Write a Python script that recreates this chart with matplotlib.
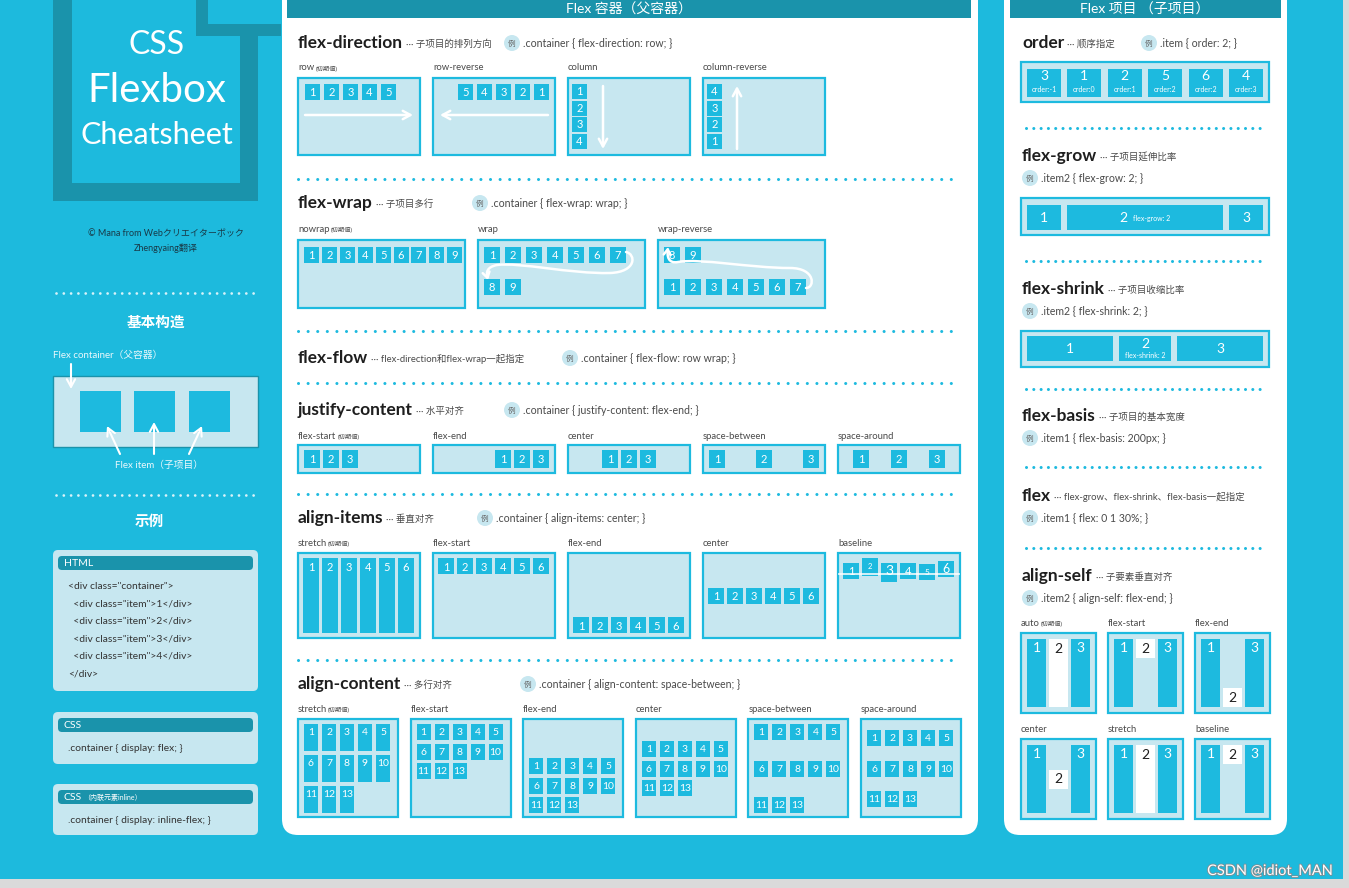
import numpy as np
import matplotlib
matplotlib.use('Agg')
import matplotlib.pyplot as plt
from matplotlib.patches import Rectangle, FancyBboxPatch, Circle, FancyArrowPatch
from matplotlib.path import Path
import matplotlib.patheffects as pe

plt.rcParams['font.family'] = ['Lato', 'Noto Sans CJK SC', 'DejaVu Sans']

PAGE = '#1DBADD'
CYAN = '#1DBADF'
LIGHT = '#C7E7F0'
DARK = '#1A93AB'
INK = '#1E1E1E'
GREY = '#4A4A4A'

# ---------------- data ----------------
title_lines = ['CSS', 'Flexbox', 'Cheatsheet']
title_sizes = [23, 29, 22]
credit_lines = ['© Mana from Webクリエイターボック', 'Zhengyaing翻译']
structure_title = '基本构造'
container_label = 'Flex container（父容器）'
item_label = 'Flex item（子项目）'
example_title = '示例'
html_lines = ['<div class="container">', '  <div class="item">1</div>', '  <div class="item">2</div>',
              '  <div class="item">3</div>', '  <div class="item">4</div>', '</div>']
css_lines = ['.container { display: flex; }']
css_inline_lines = ['.container { display: inline-flex; }']

main_header = 'Flex 容器（父容器）'
main_titles = ['flex-direction', 'flex-wrap', 'flex-flow', 'justify-content', 'align-items', 'align-content']
main_notes = ['子项目的排列方向', '子项目多行', 'flex-direction和flex-wrap一起指定', '水平对齐', '垂直对齐', '多行对齐']
main_examples = ['.container { flex-direction: row; }', '.container { flex-wrap: wrap; }',
                 '.container { flex-flow: row wrap; }', '.container { justify-content: flex-end; }',
                 '.container { align-items: center; }', '.container { align-content: space-between; }']

direction_modes = ['row', 'row-reverse', 'column', 'column-reverse']
direction_items = [[1, 2, 3, 4, 5], [5, 4, 3, 2, 1], [1, 2, 3, 4], [4, 3, 2, 1]]

wrap_modes = ['nowrap', 'wrap', 'wrap-reverse']
wrap_rows = [[[1, 2, 3, 4, 5, 6, 7, 8, 9]],
             [[1, 2, 3, 4, 5, 6, 7], [8, 9]],
             [[8, 9], [1, 2, 3, 4, 5, 6, 7]]]

justify_modes = ['flex-start', 'flex-end', 'center', 'space-between', 'space-around']
justify_items = [1, 2, 3]

align_modes = ['stretch', 'flex-start', 'flex-end', 'center', 'baseline']
align_labels = [1, 2, 3, 4, 5, 6]
baseline_heights = [16, 18, 19, 16, 16, 16]
baseline_offsets = [11, 16, 11, 11, 10, 13]
baseline_fonts = [8, 5.5, 10, 8, 6, 9]

content_modes = ['stretch', 'flex-start', 'flex-end', 'center', 'space-between', 'space-around']
content_rows = [[1, 2, 3, 4, 5], [6, 7, 8, 9, 10], [11, 12, 13]]

item_header = 'Flex 项目 （子项目）'
item_titles = ['order', 'flex-grow', 'flex-shrink', 'flex-basis', 'flex', 'align-self']
item_notes = ['顺序指定', '子项目延伸比率', '子项目收缩比率', '子项目的基本宽度',
              'flex-grow、flex-shrink、flex-basis一起指定', '子要素垂直对齐']
item_examples = ['.item { order: 2; }', '.item2 { flex-grow: 2; }', '.item2 { flex-shrink: 2; }',
                 '.item1 { flex-basis: 200px; }', '.item1 { flex: 0 1 30%; }', '.item2 { align-self: flex-end; }']
order_numbers = [3, 1, 2, 5, 6, 4]
order_values = [-1, 0, 1, 2, 2, 3]
grow_labels = [1, 2, 3]
grow_factors = [0, 2, 0]
grow_basis = [34, 34, 34]
shrink_labels = [1, 2, 3]
shrink_factors = [1, 2, 1]
shrink_basis = [119, 119, 119]
self_modes = ['auto', 'flex-start', 'flex-end', 'center', 'stretch', 'baseline']
self_labels = [1, 2, 3]
initial_note = '(初期値)'
watermark = 'CSDN @idiot_MAN'

# ---------------- canvas ----------------
fig = plt.figure(figsize=(13.49, 8.88), dpi=100)
fig.patch.set_facecolor('#DADADA')
ax = fig.add_axes([0, 0, 1, 1])
ax.set_xlim(0, 1349)
ax.set_ylim(888, 0)
ax.axis('off')
renderer = fig.canvas.get_renderer()


def right_of(t):
    return t.get_window_extent(renderer=renderer).x1


def rect(x, y, w, h, fc, ec='none', lw=0, z=2):
    ax.add_patch(Rectangle((x, y), w, h, facecolor=fc, edgecolor=ec, linewidth=lw, zorder=z))


def item(x, y, w, h, lab, fs=8, fc=CYAN, tc='white', ty=None):
    rect(x, y, w, h, fc, z=3)
    ax.text(x + w / 2, y + h / 2 if ty is None else ty, str(lab), fontsize=fs, color=tc,
            ha='center', va='center', zorder=4)


def demo_box(x, y, w, h):
    rect(x, y, w, h, LIGHT, CYAN, 1.6, z=2)


def label(x, y, name, note=''):
    t = ax.text(x, y, name, fontsize=6.8, color=GREY, va='center', zorder=5)
    if note:
        ax.text(right_of(t) + 1, y + 0.5, note, fontsize=4.5, color=GREY, va='center', zorder=5)


def dotted(x0, x1, y, pitch, color=CYAN, lw=2.2):
    on = 0.01
    off = pitch * 0.72 / lw - on
    ax.plot([x0, x1], [y, y], color=color, lw=lw, linestyle=(0, (on, off)),
            dash_capstyle='round', zorder=3)


def example_tag(cx, cy, txt):
    ax.add_patch(Circle((cx, cy), 8, facecolor=LIGHT, edgecolor='none', zorder=4))
    ax.text(cx, cy, '例', fontsize=5.5, color='#666666', ha='center', va='center', zorder=5)
    ax.text(cx + 11, cy, txt, fontsize=7.6, color=GREY, va='center', zorder=5)


def head(x, y, title, note):
    t = ax.text(x, y, title, fontsize=12.5, fontweight='bold', color=INK, va='center', zorder=5)
    ax.text(right_of(t) + 3, y + 1, '··· ' + note, fontsize=6.8, color=GREY, va='center', zorder=5)


def arrow(p0, p1, lw=1.6):
    ax.annotate('', xy=p1, xytext=p0, zorder=6,
                arrowprops=dict(arrowstyle='->,head_length=0.55,head_width=0.3', color='white',
                                lw=lw, shrinkA=0, shrinkB=0))


def distribute(mode, sizes, start, length, gap):
    sizes = np.asarray(sizes, float)
    n = len(sizes)
    if mode == 'stretch':
        sizes = np.full(n, (length - gap * (n - 1)) / n)
    free = length - sizes.sum() - gap * (n - 1)
    offset, extra = 0.0, 0.0
    if mode == 'flex-end':
        offset = free
    elif mode == 'center':
        offset = free / 2
    elif mode == 'space-between':
        extra = free / (n - 1)
    elif mode == 'space-around':
        extra = free / n
        offset = extra / 2
    pos = start + offset + np.concatenate([[0], np.cumsum(sizes[:-1] + gap + extra)])
    return pos, sizes


def flex_sizes(basis, grow, shrink, length, gap):
    basis = np.asarray(basis, float)
    free = length - basis.sum() - gap * (len(basis) - 1)
    if free >= 0:
        g = np.asarray(grow, float)
        return basis + free * g / g.sum()
    w = np.asarray(shrink, float) * basis
    return basis + free * w / w.sum()


# ---------------- background ----------------
rect(0, 0, 1343, 879, PAGE, z=0)

# left title block
rect(53, -5, 205, 206, DARK, z=1)
rect(72, -5, 168, 188, PAGE, z=1)
rect(196, -5, 85, 41, DARK, z=1)
rect(208, -5, 73, 29, PAGE, z=1)
for txt, yy, fs in zip(title_lines, [45, 91, 135], title_sizes):
    ax.text(157, yy, txt, fontsize=fs, color='white', ha='center', va='center', zorder=5)
for txt, yy in zip(credit_lines, [234, 248]):
    ax.text(166, yy, txt, fontsize=6.5, color='#183A48', ha='center', va='center', zorder=5)

dotted(56, 256, 293, 7.3, color='#D8F2F9', lw=2)
dotted(56, 256, 495, 7.3, color='#D8F2F9', lw=2)
ax.text(156, 323, structure_title, fontsize=10.5, fontweight='bold', color='white', ha='center', va='center')
ax.text(53, 355, container_label, fontsize=7, color='#EAF8FC', va='center')
rect(53, 376, 205, 71, LIGHT, DARK, 1, z=2)
for sx in [80, 134, 189]:
    rect(sx, 391, 41, 41, CYAN, z=3)
arrow((71, 364), (71, 389), lw=1.5)
arrow((120, 454), (107, 426), lw=1.5)
arrow((154, 454), (154, 422), lw=1.5)
arrow((189, 454), (202, 426), lw=1.5)
ax.text(159, 465, item_label, fontsize=7, color='#EAF8FC', ha='center', va='center')
ax.text(149, 522, example_title, fontsize=10.5, fontweight='bold', color='white', ha='center', va='center')

code_boxes = [(550, 141, 'HTML', '', html_lines), (712, 52, 'CSS', '', css_lines),
              (784, 51, 'CSS', '（内联元素inline）', css_inline_lines)]
for by, bh, name, note, lines in code_boxes:
    ax.add_patch(FancyBboxPatch((53, by), 205, bh, boxstyle='round,pad=0,rounding_size=5',
                                facecolor=LIGHT, edgecolor='none', zorder=2))
    ax.add_patch(FancyBboxPatch((58, by + 6), 195, 14, boxstyle='round,pad=0,rounding_size=4',
                                facecolor=DARK, edgecolor='none', zorder=3))
    t = ax.text(64, by + 13, name, fontsize=7.5, color='white', va='center', zorder=4)
    if note:
        ax.text(right_of(t) + 1, by + 13.5, note, fontsize=5, color='white', va='center', zorder=4)
    for i, line in enumerate(lines):
        ax.text(68, by + 36 + i * 17.6, line, fontsize=7.4, color='#333333', va='center', zorder=4)

# ---------------- main panel ----------------
ax.add_patch(FancyBboxPatch((282, -30), 696, 865, boxstyle='round,pad=0,rounding_size=16',
                            facecolor='white', edgecolor='none', zorder=1))
rect(287, -10, 684, 28, DARK, z=2)
ax.text(629, 9, main_header, fontsize=10, color='white', ha='center', va='center', zorder=5)

head_y = [43, 203, 358, 410, 518, 684]
ex_x = [512, 480, 570, 512, 485, 528]
for t, n, e, yy, xx in zip(main_titles, main_notes, main_examples, head_y, ex_x):
    head(298, yy, t, n)
    example_tag(xx, yy, e)
for yy in [179, 331, 383, 494, 660]:
    dotted(298, 960, yy, 9.6)

# flex-direction
for k, (mode, its) in enumerate(zip(direction_modes, direction_items)):
    bx = 298 + k * 135
    label(bx, 68, mode, initial_note if k == 0 else '')
    demo_box(bx, 78, 122, 77)
    if mode == 'row':
        xs, _ = distribute('flex-start', [15] * len(its), bx + 7, 108, 4)
        for x, lab in zip(xs, its):
            item(x, 84, 15, 16, lab)
        arrow((bx + 7, 115), (bx + 115, 115), lw=1.8)
    elif mode == 'row-reverse':
        xs, _ = distribute('flex-end', [15] * len(its), bx + 7, 109, 4)
        for x, lab in zip(xs, its):
            item(x, 84, 15, 16, lab)
        arrow((bx + 115, 115), (bx + 7, 115), lw=1.8)
    else:
        ys, _ = distribute('flex-start', [15] * len(its), 84, 64, 1.7)
        for y, lab in zip(ys, its):
            item(bx + 4, y, 15, 15, lab)
        if mode == 'column':
            arrow((bx + 35, 86), (bx + 35, 149), lw=1.8)
        else:
            arrow((bx + 34, 149), (bx + 34, 86), lw=1.8)

# flex-wrap
for k, (mode, rows) in enumerate(zip(wrap_modes, wrap_rows)):
    bx = 298 + k * 180
    label(bx, 229, mode, initial_note if k == 0 else '')
    demo_box(bx, 240, 167, 68)
    w, gap = (15, 2.9) if mode == 'nowrap' else (16, 5)
    for r, row in enumerate(rows):
        xs, _ = distribute('flex-start', [w] * len(row), bx + 6, 155, gap)
        for x, lab in zip(xs, row):
            item(x, 247 + r * 32, w, 16, lab)
verts = {'wrap': [(626, 252), (636, 254), (637, 272), (610, 273), (570, 274), (520, 262), (497, 265),
                  (487, 267), (486, 272), (488, 280)],
         'wrap-reverse': [(806, 288), (815, 288), (816, 268), (790, 268), (750, 268), (700, 258), (678, 262),
                          (668, 264), (667, 256), (668, 247)]}
for v in verts.values():
    codes = [Path.MOVETO] + [Path.CURVE4] * 9
    ax.add_patch(FancyArrowPatch(path=Path(v, codes), arrowstyle='->,head_length=4,head_width=2.5',
                                 color='white', lw=1.8, zorder=6))

# justify-content
for k, mode in enumerate(justify_modes):
    bx = 298 + k * 135
    label(bx, 436, mode, initial_note if k == 0 else '')
    demo_box(bx, 445, 122, 28)
    xs, _ = distribute(mode, [16] * 3, bx + 6, 110, 3)
    for x, lab in zip(xs, justify_items):
        item(x, 450, 16, 18, lab)

# align-items
for k, mode in enumerate(align_modes):
    bx = 298 + k * 135
    label(bx, 543, mode, initial_note if k == 0 else '')
    demo_box(bx, 553, 122, 85)
    xs, _ = distribute('flex-start', [16] * 6, bx + 5, 112, 3)
    for j, (x, lab) in enumerate(zip(xs, align_labels)):
        if mode == 'baseline':
            base = 553 + 21
            item(x, base - baseline_offsets[j], 16, baseline_heights[j], lab, fs=baseline_fonts[j],
                 ty=base - baseline_offsets[j] + 8)
        else:
            ys, hs = distribute(mode, [16], 558, 75, 0)
            item(x, ys[0], 16, hs[0], lab, ty=ys[0] + 9)
    if mode == 'baseline':
        ax.plot([bx + 1, bx + 121], [574, 574], color='white', lw=1.3, alpha=0.85, zorder=5)

# align-content
for k, mode in enumerate(content_modes):
    bx = 298 + k * 112.6
    label(bx, 709, mode, initial_note if k == 0 else '')
    demo_box(bx, 719, 100, 98)
    ys, hs = distribute(mode, [16] * 3, 724, 89, 3.5)
    for y, h, row in zip(ys, hs, content_rows):
        xs, _ = distribute('flex-start', [14] * 5, bx + 6, 88, 4)
        for x, lab in zip(xs, row):
            item(x, y, 14, h, lab, fs=7.5, ty=y + 8.5)

# ---------------- item panel ----------------
ax.add_patch(FancyBboxPatch((1004, -30), 283, 865, boxstyle='round,pad=0,rounding_size=16',
                            facecolor='white', edgecolor='none', zorder=1))
rect(1010, -10, 271, 28, DARK, z=2)
ax.text(1145, 9, item_header, fontsize=10, color='white', ha='center', va='center', zorder=5)

ihead_y = [43, 156, 289, 416, 496, 576]
for k, (t, n, e, yy) in enumerate(zip(item_titles, item_notes, item_examples, ihead_y)):
    head(1022, yy, t, n)
    if k == 0:
        example_tag(1149, yy, e)
    else:
        example_tag(1030, yy + 22, e)
for yy in [128, 261, 389, 467, 548]:
    dotted(1026, 1265, yy, 7.3)

# order
demo_box(1021, 62, 248, 40)
xs, _ = distribute('flex-start', [34] * 6, 1027, 236, 6.4)
for x, num, o in zip(xs, order_numbers, order_values):
    item(x, 69, 34, 28, num, fs=10, ty=76)
    ax.text(x + 17, 90, 'order:%d' % o, fontsize=5, color='white', ha='center', va='center', zorder=4)

# flex-grow
demo_box(1021, 198, 248, 37)
ws = flex_sizes(grow_basis, grow_factors, [1, 1, 1], 236, 6)
xs, _ = distribute('flex-start', ws, 1027, 236, 6)
for x, w, lab, g in zip(xs, ws, grow_labels, grow_factors):
    if g:
        rect(x, 205, w, 25, CYAN, z=3)
        ax.text(x + w / 2 - 22, 217.5, str(lab), fontsize=10, color='white', ha='center', va='center', zorder=4)
        ax.text(x + w / 2 - 12, 218, 'flex-grow: %d' % g, fontsize=5, color='white', va='center', zorder=4)
    else:
        item(x, 205, w, 25, lab, fs=10)

# flex-shrink
demo_box(1021, 331, 248, 36)
ws = flex_sizes(shrink_basis, [0, 0, 0], shrink_factors, 236, 6)
xs, _ = distribute('flex-start', ws, 1027, 236, 6)
for x, w, lab, s in zip(xs, ws, shrink_labels, shrink_factors):
    if s > 1:
        item(x, 336, w, 25, lab, fs=10, ty=344)
        ax.text(x + w / 2, 355.5, 'flex-shrink: %d' % s, fontsize=5, color='white', ha='center',
                va='center', zorder=4)
    else:
        item(x, 336, w, 25, lab, fs=10)

# align-self
for k, mode in enumerate(self_modes):
    bx = 1021 + (k % 3) * 87
    by = 633 + (k // 3) * 106
    label(bx, by - 10, mode, initial_note if k == 0 else '')
    demo_box(bx, by, 75, 80)
    xs, _ = distribute('flex-start', [19] * 3, bx + 6, 63, 3)
    for j, (x, lab) in enumerate(zip(xs, self_labels)):
        if j == 1:
            m = 'stretch' if mode == 'auto' else ('flex-start' if mode == 'baseline' else mode)
            ys, hs = distribute(m, [19], by + 6, 68, 0)
            item(x, ys[0], 19, hs[0], lab, fs=10, fc='white', tc=INK, ty=ys[0] + 9.5)
        else:
            item(x, by + 6, 19, 68, lab, fs=10, ty=by + 15)

# page edge and watermark
ax.text(1334, 871, watermark, fontsize=10.5, color='white', ha='right', va='center', zorder=6,
        path_effects=[pe.withStroke(linewidth=1.2, foreground='#7F8C91')])

fig.savefig('out.png', dpi=100, facecolor=fig.get_facecolor())
